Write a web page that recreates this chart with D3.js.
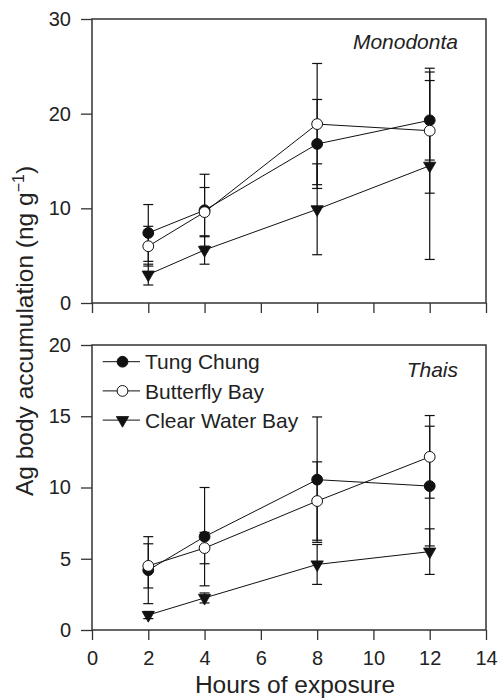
<!DOCTYPE html>
<html>
<head>
<meta charset="utf-8">
<script src="https://cdn.jsdelivr.net/npm/d3@7"></script>
<style>
  html, body { margin: 0; padding: 0; background: #fff; }
  svg { display: block; font-family: "Liberation Sans", Arial, Helvetica, sans-serif; }
</style>
</head>
<body>
<svg id="chart" width="500" height="698"></svg>
<script>
// ---- Data ----
const hours = [2, 4, 8, 12];
const seriesNames = ["Tung Chung", "Butterfly Bay", "Clear Water Bay"];

// Monodonta (top panel)
const monoTungChung      = [7.4, 9.8, 16.8, 19.3];
const monoTungChungErr   = [3.0, 3.8, 4.7, 4.2];
const monoButterfly      = [6.0, 9.6, 18.9, 18.2];
const monoButterflyErr   = [2.1, 2.6, 6.4, 6.6];
const monoClearWater     = [3.0, 5.6, 9.9, 14.5];
const monoClearWaterErr  = [1.1, 1.5, 4.8, 9.9];

// Thais (bottom panel)
const thaisTungChung     = [4.2, 6.55, 10.55, 10.1];
const thaisTungChungErr  = [2.35, 3.45, 4.4, 4.2];
const thaisButterfly     = [4.5, 5.75, 9.05, 12.15];
const thaisButterflyErr  = [1.55, 1.1, 2.75, 2.9];
const thaisClearWater    = [1.05, 2.25, 4.6, 5.5];
const thaisClearWaterErr = [0.25, 0.35, 1.4, 1.6];

const xTicks = [0, 2, 4, 6, 8, 10, 12, 14];
const yTicksTop = [0, 10, 20, 30];
const yTicksBottom = [0, 5, 10, 15, 20];

// ---- Layout ----
const svg = d3.select("#chart");
const left = 92, right = 486;
const x = d3.scaleLinear().domain([0, 14]).range([left, right]);
const yTop = d3.scaleLinear().domain([0, 30]).range([303, 19]);
const yBot = d3.scaleLinear().domain([0, 20]).range([630, 345]);

const frameColor = "#333";
const styles = ["filled", "open", "triangle"];

function drawPanel(y, yTicks, showXLabels, series, title, titleY) {
  const g = svg.append("g");
  // axes
  const ya = g.append("g").attr("transform", `translate(${left},0)`)
    .call(d3.axisLeft(y).tickValues(yTicks).tickSize(11).tickPadding(10).tickFormat(d3.format("d")));
  const xa = g.append("g").attr("transform", `translate(0,${y(0)})`)
    .call(d3.axisBottom(x).tickValues(xTicks).tickSize(10).tickPadding(11)
      .tickFormat(showXLabels ? d3.format("d") : () => ""));
  [ya, xa].forEach(a => {
    a.select(".domain").remove();
    a.selectAll(".tick line").attr("stroke", frameColor).attr("stroke-width", 1.3);
    a.selectAll(".tick text").attr("fill", "#222").style("font-size", "20px")
      .style("font-family", '"Liberation Sans", Arial, sans-serif');
  });
  // frame
  g.append("rect")
    .attr("x", left).attr("y", y.range()[1])
    .attr("width", right - left).attr("height", y.range()[0] - y.range()[1])
    .attr("fill", "none").attr("stroke", frameColor).attr("stroke-width", 1.5);

  const line = d3.line().x((d, i) => x(hours[i])).y(d => y(d));
  // connecting lines
  series.forEach(s => {
    g.append("path").datum(s.values).attr("d", line)
      .attr("fill", "none").attr("stroke", "#111").attr("stroke-width", 1);
  });
  // error bars
  series.forEach(s => {
    s.values.forEach((v, i) => {
      const cx = x(hours[i]);
      const e = s.err[i];
      g.append("line").attr("x1", cx).attr("x2", cx)
        .attr("y1", y(v - e)).attr("y2", y(v + e))
        .attr("stroke", "#111").attr("stroke-width", 1.2);
      [v - e, v + e].forEach(c => {
        g.append("line").attr("x1", cx - 5).attr("x2", cx + 5)
          .attr("y1", y(c)).attr("y2", y(c))
          .attr("stroke", "#111").attr("stroke-width", 1.2);
      });
    });
  });
  // markers
  series.forEach(s => {
    s.values.forEach((v, i) => drawMarker(g, x(hours[i]), y(v), s.style));
  });
  // title
  g.append("text").attr("x", 458).attr("y", titleY)
    .attr("text-anchor", "end").style("font-style", "italic")
    .style("font-size", "21px").attr("fill", "#222").text(title);
  return g;
}

function drawMarker(g, cx, cy, style) {
  if (style === "triangle") {
    g.append("path")
      .attr("d", d3.symbol(d3.symbolTriangle, 66)())
      .attr("transform", `translate(${cx},${cy}) rotate(180)`)
      .attr("fill", "#111").attr("stroke", "#111").attr("stroke-width", 0.8);
  } else {
    g.append("circle").attr("cx", cx).attr("cy", cy).attr("r", 5.4)
      .attr("fill", style === "filled" ? "#111" : "#fff")
      .attr("stroke", "#111").attr("stroke-width", 1);
  }
}

drawPanel(yTop, yTicksTop, false, [
  { values: monoTungChung, err: monoTungChungErr, style: styles[0] },
  { values: monoButterfly, err: monoButterflyErr, style: styles[1] },
  { values: monoClearWater, err: monoClearWaterErr, style: styles[2] }
], "Monodonta", 49);

drawPanel(yBot, yTicksBottom, true, [
  { values: thaisTungChung, err: thaisTungChungErr, style: styles[0] },
  { values: thaisButterfly, err: thaisButterflyErr, style: styles[1] },
  { values: thaisClearWater, err: thaisClearWaterErr, style: styles[2] }
], "Thais", 377);

// legend
const legend = svg.append("g");
seriesNames.forEach((name, i) => {
  const cy = 361.7 + i * 29.2;
  legend.append("line").attr("x1", 102.7).attr("x2", 140).attr("y1", cy).attr("y2", cy)
    .attr("stroke", "#111").attr("stroke-width", 1);
  drawMarker(legend, 122.5, cy, styles[i]);
  legend.append("text").attr("x", 145).attr("y", cy + 7.6)
    .style("font-size", "21px").attr("fill", "#222").text(name);
});

// axis titles
svg.append("text").attr("x", 295).attr("y", 693)
  .attr("text-anchor", "middle").style("font-size", "24.5px").attr("fill", "#222")
  .text("Hours of exposure");

const yt = svg.append("text")
  .attr("transform", "translate(33,331) rotate(-90)")
  .attr("text-anchor", "middle").style("font-size", "24.5px").attr("fill", "#222");
yt.append("tspan").text("Ag body accumulation (ng g");
yt.append("tspan").attr("dy", -9).style("font-size", "16px").text("\u22121");
yt.append("tspan").attr("dy", 9).text(")");
</script>
</body>
</html>
